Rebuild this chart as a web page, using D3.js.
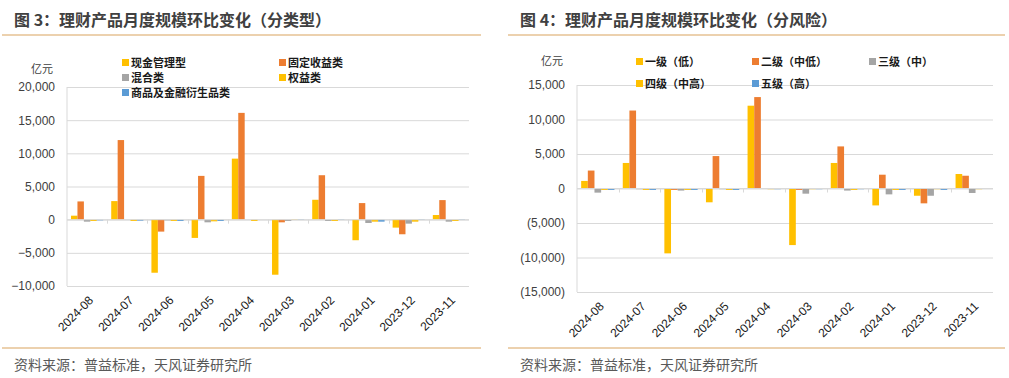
<!DOCTYPE html>
<html>
<head>
<meta charset="utf-8">
<script src="https://cdn.jsdelivr.net/npm/d3@7"></script>
<style>
  body { margin: 0; background: #fff; }
  svg { display: block; }
</style>
</head>
<body>
<div id="chart"></div>
<script>
// categories (x axis)
const months = ["2024-08", "2024-07", "2024-06", "2024-05", "2024-04", "2024-03", "2024-02", "2024-01", "2023-12", "2023-11"];

// figure 3: by product type (亿元)
const typeNames = ["现金管理型", "固定收益类", "混合类", "权益类", "商品及金融衍生品类"];
const cashMgmt    = [600, 2800, -8000, -2750, 9200, -8300, 3000, -3100, -1200, 700];
const fixedIncome = [2750, 12000, -1800, 6600, 16100, -400, 6700, 2500, -2200, 2950];
const mixed       = [-300, 0, -100, -400, 0, -200, -200, -500, -600, -300];
const equity      = [-200, -200, -200, -250, -200, 100, -200, -300, -300, -200];
const commodity   = [-100, -150, -200, -200, 0, 100, 100, -300, 100, 100];
const leftTicks = [-10000, -5000, 0, 5000, 10000, 15000, 20000];

// figure 4: by risk level (亿元)
const riskNames = ["一级（低）", "二级（中低）", "三级（中）", "四级（中高）", "五级（高）"];
const risk1 = [1100, 3700, -9400, -2000, 12000, -8200, 3700, -2450, -1050, 2100];
const risk2 = [2600, 11300, -200, 4700, 13250, -200, 6100, 2000, -2150, 1850];
const risk3 = [-600, -100, -300, -100, 0, -750, -300, -850, -1050, -650];
const risk4 = [-200, -200, -200, -200, -100, -100, -200, -200, -100, -100];
const risk5 = [-200, -200, -200, -200, -100, -100, -100, -200, -200, -50];
const rightTicks = [-15000, -10000, -5000, 0, 5000, 10000, 15000];

const colors = ["#FFC000", "#ED7D31", "#A5A5A5", "#FFC000", "#5B9BD5"];
const cnFont = "'Noto Sans CJK SC', 'Noto Sans', sans-serif";
const numFont = "'Liberation Sans', Arial, sans-serif";
const ruleColor = "#D9A45F";

const svg = d3.select("#chart").append("svg")
    .attr("width", 1009)
    .attr("height", 378);

function drawPanel(p) {
    const g = svg.append("g");

    // title + rules
    g.append("text")
        .attr("x", p.ox + 14).attr("y", 26)
        .attr("font-family", cnFont).attr("font-size", 16).attr("font-weight", "bold")
        .attr("fill", "#404040")
        .text(p.title);
    g.append("line").attr("x1", p.ox + 2).attr("x2", p.ox + p.w).attr("y1", 35).attr("y2", 35)
        .attr("stroke", ruleColor).attr("stroke-width", 1.2);
    g.append("line").attr("x1", p.ox + 2).attr("x2", p.ox + p.w).attr("y1", 348).attr("y2", 348)
        .attr("stroke", ruleColor).attr("stroke-width", 1.2);
    g.append("text")
        .attr("x", p.ox + 14).attr("y", 370)
        .attr("font-family", cnFont).attr("font-size", 14)
        .attr("fill", "#595959")
        .text("资料来源：普益标准，天风证券研究所");

    const x0 = d3.scaleBand().domain(months).range([p.left, p.right]);
    const x1 = d3.scaleBand().domain(d3.range(p.series.length))
        .range([x0.bandwidth() * 0.1, x0.bandwidth() * 0.9]);
    const y = d3.scaleLinear().domain(p.domain).range([p.bottom, p.top]);

    // gridlines + y labels
    const yAxis = d3.axisLeft(y).tickValues(p.ticks).tickSize(-(p.right - p.left))
        .tickFormat(p.fmt).tickPadding(12);
    const ya = g.append("g").attr("transform", `translate(${p.left},0)`).call(yAxis);
    ya.select(".domain").remove();
    ya.selectAll(".tick line").attr("stroke", "#D9D9D9").attr("stroke-width", 1);
    ya.selectAll(".tick text").attr("font-family", numFont).attr("font-size", 12).attr("fill", "#404040");
    g.append("line").attr("x1", p.left).attr("x2", p.left).attr("y1", p.top).attr("y2", p.bottom)
        .attr("stroke", "#D9D9D9");

    g.append("text")
        .attr("x", p.left - 14).attr("y", p.unitY)
        .attr("text-anchor", "end")
        .attr("font-family", cnFont).attr("font-size", 11).attr("fill", "#404040")
        .text("亿元");

    // bars
    p.series.forEach(function(vals, si) {
        g.append("g").selectAll("rect")
            .data(vals)
            .enter()
            .append("rect")
            .attr("x", function(d, i) { return x0(months[i]) + x1(si); })
            .attr("width", x1.bandwidth())
            .attr("y", function(d) { return y(Math.max(0, d)); })
            .attr("height", function(d) { return Math.abs(y(d) - y(0)); })
            .attr("fill", colors[si]);
    });

    // zero line with category ticks
    g.append("line").attr("x1", p.left).attr("x2", p.right).attr("y1", y(0)).attr("y2", y(0))
        .attr("stroke", "#D9D9D9");
    g.append("g").selectAll("line")
        .data(months.slice(1))
        .enter()
        .append("line")
        .attr("x1", function(d) { return Math.round(x0(d)) + 0.5; })
        .attr("x2", function(d) { return Math.round(x0(d)) + 0.5; })
        .attr("y1", y(0)).attr("y2", y(0) + 4)
        .attr("stroke", "#D9D9D9");

    // x labels
    g.append("g").selectAll("text")
        .data(months)
        .enter()
        .append("text")
        .attr("transform", function(d) {
            return `translate(${x0(d) + x0.bandwidth() / 2 + 4},${p.bottom + 12}) rotate(-45)`;
        })
        .attr("text-anchor", "end")
        .attr("dy", "0.35em")
        .attr("font-family", numFont).attr("font-size", 12).attr("fill", "#1a1a1a")
        .text(function(d) { return d; });

    // legend
    p.legend.forEach(function(it) {
        g.append("rect").attr("x", it.x).attr("y", it.y - 4).attr("width", 7).attr("height", 7)
            .attr("fill", colors[it.i]);
        g.append("text").attr("x", it.x + 9).attr("y", it.y)
            .attr("dy", "0.36em")
            .attr("font-family", cnFont).attr("font-size", 11).attr("font-weight", "bold")
            .attr("fill", "#1a1a1a")
            .text(p.names[it.i]);
    });
}

drawPanel({
    ox: 0, w: 481,
    title: "图 3：理财产品月度规模环比变化（分类型）",
    left: 67, right: 469, top: 87, bottom: 286,
    domain: [-10000, 20000], ticks: leftTicks,
    fmt: d3.format(","),
    unitY: 73,
    names: typeNames,
    series: [cashMgmt, fixedIncome, mixed, equity, commodity],
    legend: [
        { i: 0, x: 122, y: 63 }, { i: 1, x: 279, y: 63 },
        { i: 2, x: 122, y: 78 }, { i: 3, x: 279, y: 78 },
        { i: 4, x: 122, y: 93 }
    ]
});

drawPanel({
    ox: 506, w: 499,
    title: "图 4：理财产品月度规模环比变化（分风险）",
    left: 577, right: 993, top: 85, bottom: 292,
    domain: [-15000, 15000], ticks: rightTicks,
    fmt: function(d) { return d < 0 ? "(" + d3.format(",")(-d) + ")" : d3.format(",")(d); },
    unitY: 65,
    names: riskNames,
    series: [risk1, risk2, risk3, risk4, risk5],
    legend: [
        { i: 0, x: 636, y: 62 }, { i: 1, x: 752, y: 62 }, { i: 2, x: 869, y: 62 },
        { i: 3, x: 636, y: 84 }, { i: 4, x: 752, y: 84 }
    ]
});
</script>
</body>
</html>
